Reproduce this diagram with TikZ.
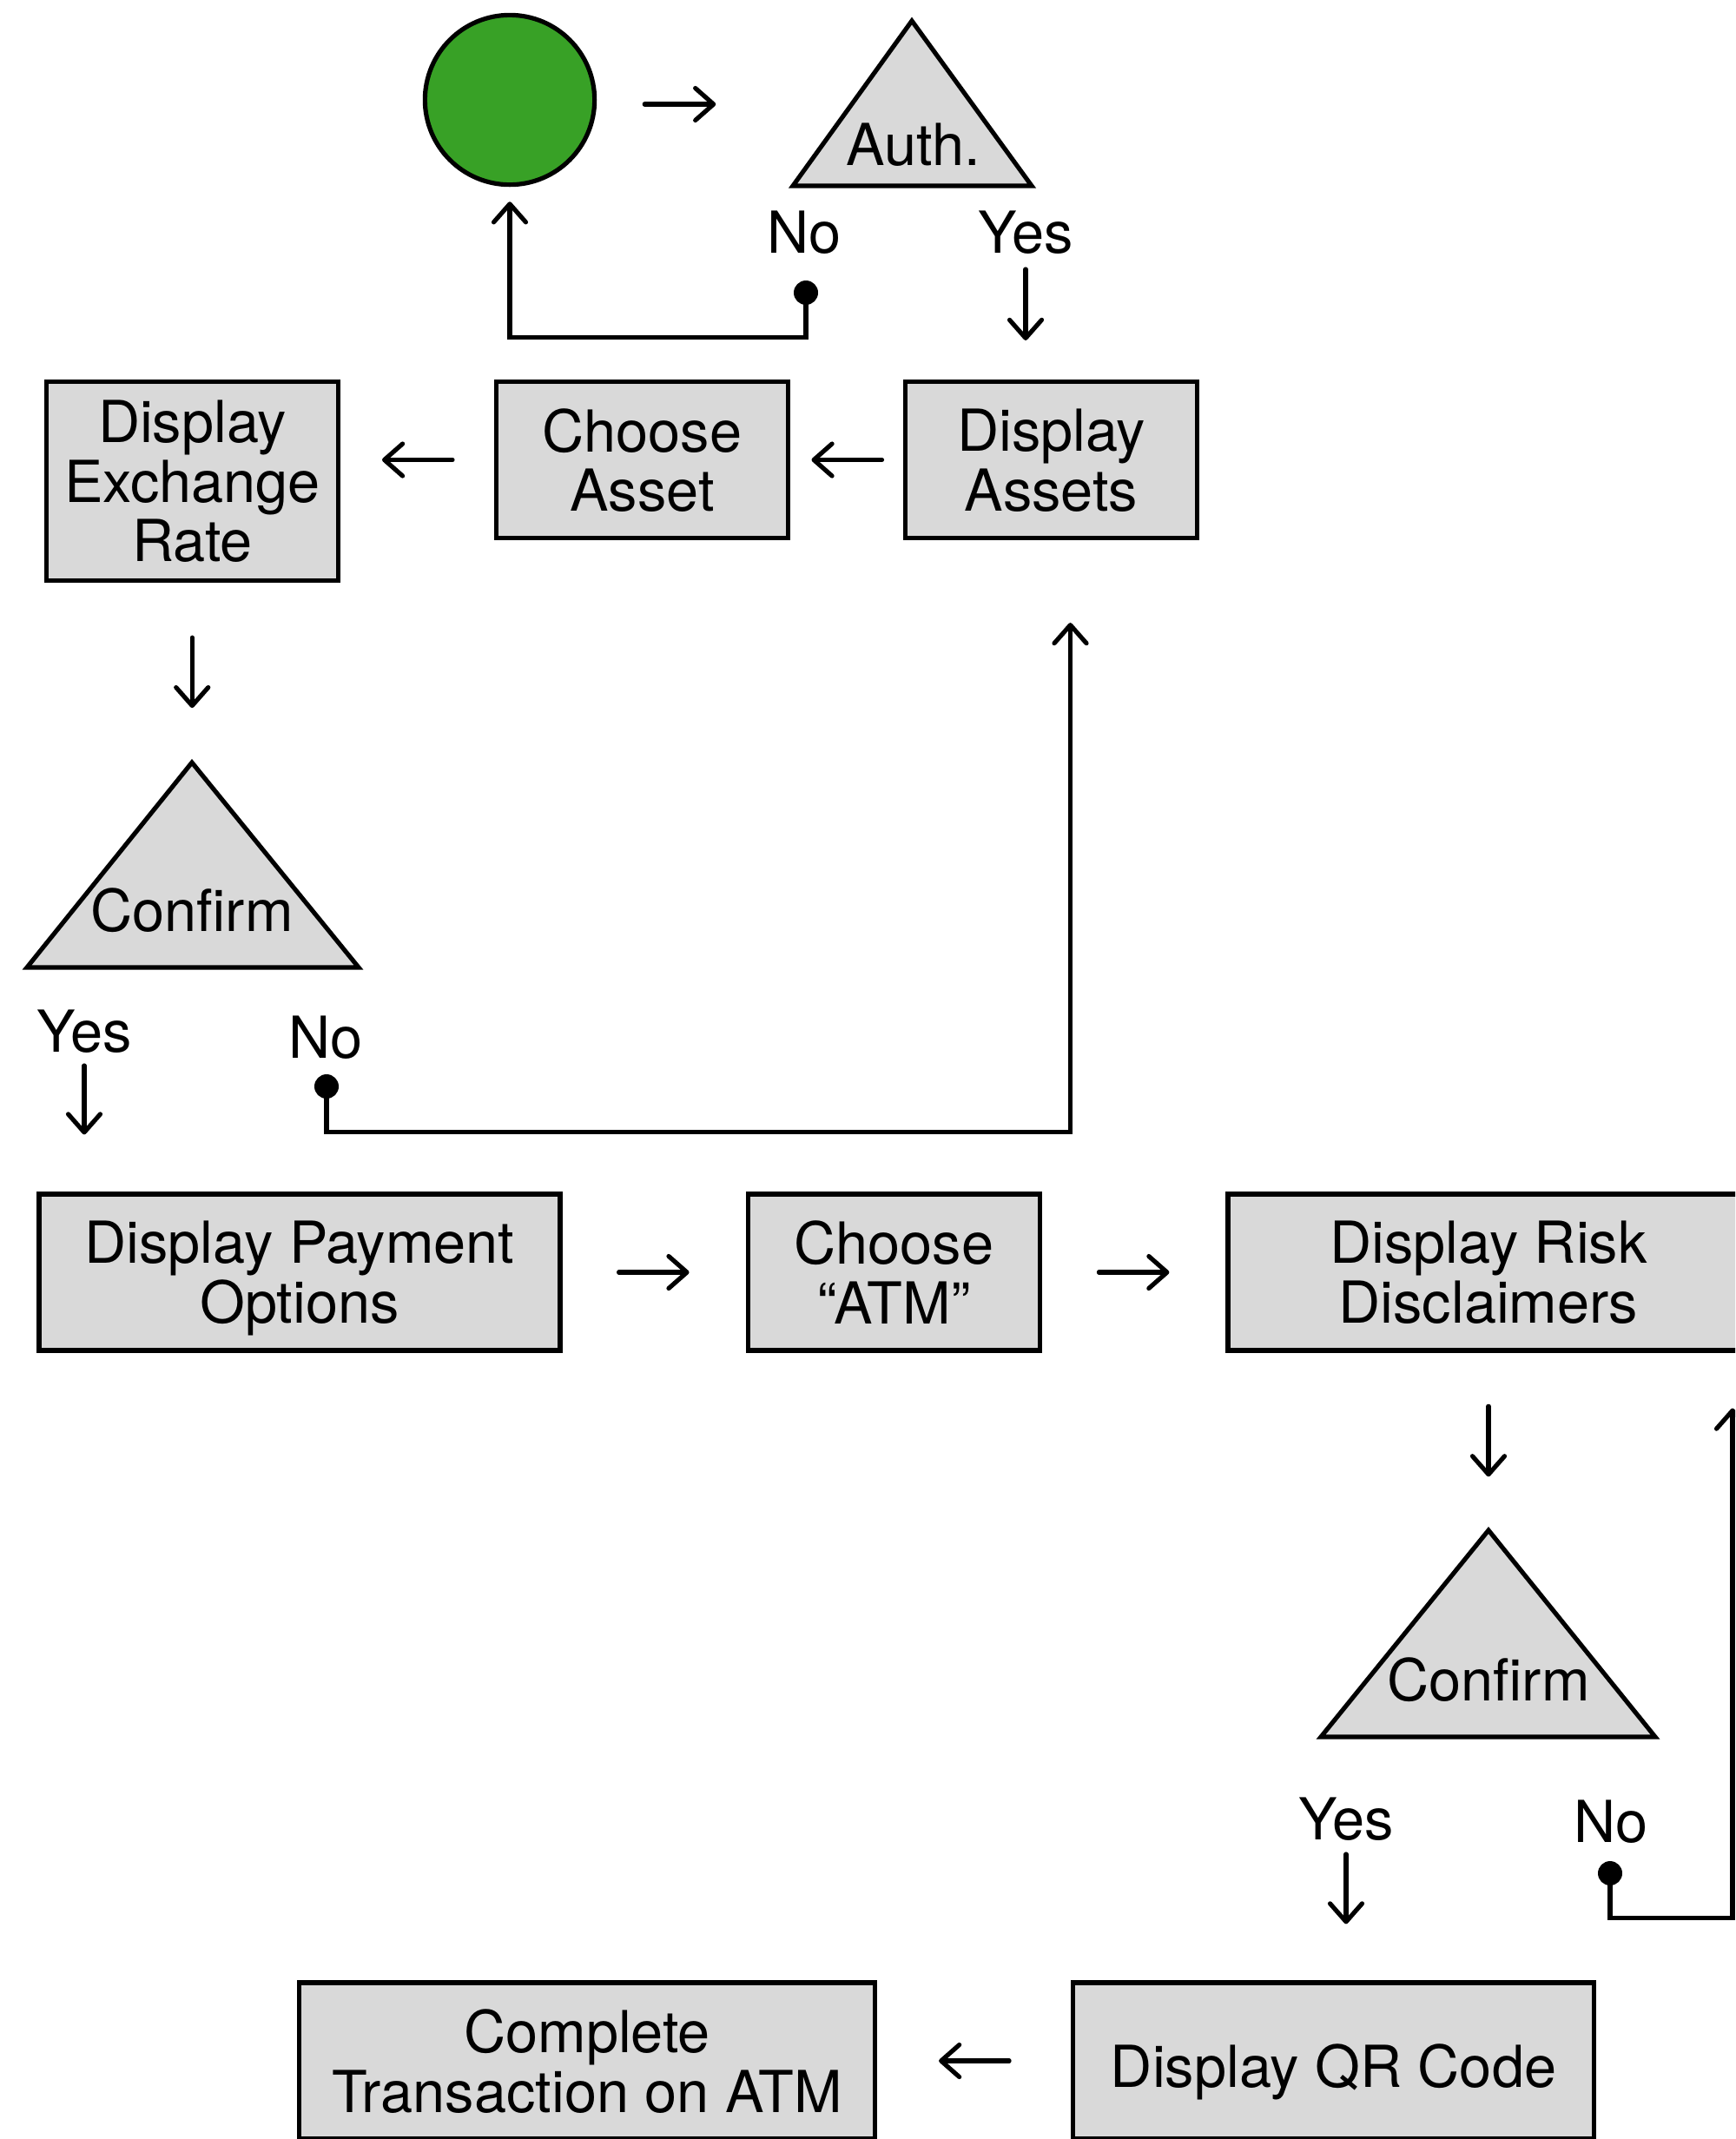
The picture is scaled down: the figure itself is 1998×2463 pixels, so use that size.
\documentclass[tikz,border=0pt]{standalone}
\usepackage{fontspec}
\setmainfont{TeX Gyre Heros}
\usetikzlibrary{arrows.meta,calc}
\definecolor{boxgray}{HTML}{D9D9D9}
\definecolor{startgreen}{RGB}{56,161,38}
\begin{document}
\begin{tikzpicture}[x=0.3pt,y=-0.3pt,
  txt/.style={font=\fontsize{20pt}{20.6pt}\selectfont},
  box/.style={draw, fill=boxgray, line width=1.55pt, align=center, inner sep=0pt,
    minimum height=54pt, text depth=0pt, txt},
  smallbox/.style={box, minimum width=101pt},
  widebox/.style={box, minimum width=180pt},
  lbl/.style={inner sep=0pt, anchor=base, txt},
  tri/.style={draw, fill=boxgray, line width=1.55pt},
  arr/.style={line width=1.55pt, line cap=round, -{Straight Barb[length=6.3pt, width=11.1pt, round]}},
  conn/.style={line width=1.55pt, -{Straight Barb[length=6.3pt, width=11.1pt, round]}},
  dotn/.style={circle, fill=black, inner sep=0pt, minimum size=8.4pt},
]
\useasboundingbox (0,0) rectangle (1998,2463);
\clip (0,0) rectangle (1998,2463);

% start and authentication
\node[circle, draw, fill=startgreen, line width=1.55pt, minimum size=58.6pt, inner sep=0pt] (start) at (587,115) {};
\filldraw[tri] (1050,24) -- (913,214) -- (1188,214) -- cycle;
\node[lbl] (auth) at (1052,190) {Auth.};
\node[lbl] (no0) at (926,291) {No};
\node[lbl] (yes0) at (1181,291) {Yes};
\node[dotn] (dot0) at (928,337) {};

% row 1
\node[smallbox] (assets) at (1210.5,529.5) {Display\\Assets};
\node[smallbox] (choose) at (739.5,529.5) {Choose\\Asset};
\node[smallbox, minimum height=68.8pt] (exch) at (221.5,554) {Display\\Exchange\\Rate};

% confirm 1
\filldraw[tri] (221,878) -- (31,1114) -- (413,1114) -- cycle;
\coordinate (c1apex) at (221,878);
\node[lbl] (conf1) at (221,1072) {Confirm};
\node[lbl] (yes1) at (97,1211) {Yes};
\node[lbl] (no1) at (375,1218) {No};
\node[dotn] (dot1) at (376,1251) {};

% row 3
\node[widebox] (payment) at (345,1465) {Display Payment\\Options};
\node[smallbox] (atm) at (1029.5,1465) {Choose\\“ATM”};
\node[widebox] (risk) at (1714,1465) {Display Risk\\Disclaimers};

% confirm 2
\filldraw[tri] (1714,1762) -- (1521,2000) -- (1906,2000) -- cycle;
\coordinate (c2apex) at (1714,1762);
\node[lbl] (conf2) at (1714,1958) {Confirm};
\node[lbl] (yes2) at (1550,2118) {Yes};
\node[lbl] (no2) at (1855,2121) {No};
\node[dotn] (dot2) at (1854,2157) {};

% row 5
\node[widebox, text height=18pt] (qr) at (1535.5,2373) {Display QR Code};
\node[box, minimum width=199pt] (complete) at (676,2373) {Complete\\Transaction on ATM};

% arrows
\draw[arr] ($(start.east)+(55,5)$) -- ($(start.east)+(137,5)$);
\draw[arr, shorten <=5.7pt, shorten >=13.5pt] (yes0.base) -- (yes0.base |- assets.north);
\draw[arr] ($(assets.west)!.5!(choose.east)+(40.5,0)$) -- ($(assets.west)!.5!(choose.east)+(-40.5,0)$);
\draw[arr] ($(choose.west)!.5!(choose.west -| exch.east)+(40.5,0)$) -- ($(choose.west)!.5!(choose.west -| exch.east)+(-40.5,0)$);
\draw[arr] ($(exch.south)!.5!(c1apex)+(0,-40.5)$) -- ($(exch.south)!.5!(c1apex)+(0,40.5)$);
\draw[arr, shorten <=4.8pt, shorten >=19.8pt] (yes1.base) -- (yes1.base |- payment.north);
\draw[arr] ($(payment.east)!.5!(atm.west)+(-40.5,0)$) -- ($(payment.east)!.5!(atm.west)+(40.5,0)$);
\draw[arr] ($(atm.east)!.5!(risk.west)+(-40.5,0)$) -- ($(atm.east)!.5!(risk.west)+(40.5,0)$);
\draw[arr] ($(risk.south)!.5!(c2apex)+(0,-40.5)$) -- ($(risk.south)!.5!(c2apex)+(0,40.5)$);
\draw[arr, shorten <=5.1pt, shorten >=19.5pt] (yes2.base) -- (yes2.base |- qr.north);
\draw[arr] ($(qr.west)!.5!(complete.east)+(40.5,0)$) -- ($(qr.west)!.5!(complete.east)+(-40.5,0)$);

% "No" return connectors
\draw[conn, shorten >=5.1pt] (dot0.center) |- ($(start.south)+(0,173)$) -- (start.south);
\draw[conn] (dot1.center) |- ($(assets.south)+(22,681)$) -- ($(assets.south)+(22,95)$);
\draw[conn] (dot2.center) |- ($(risk.south)+(281,651)$) -- ($(risk.south)+(281,64)$);
\end{tikzpicture}
\end{document}
